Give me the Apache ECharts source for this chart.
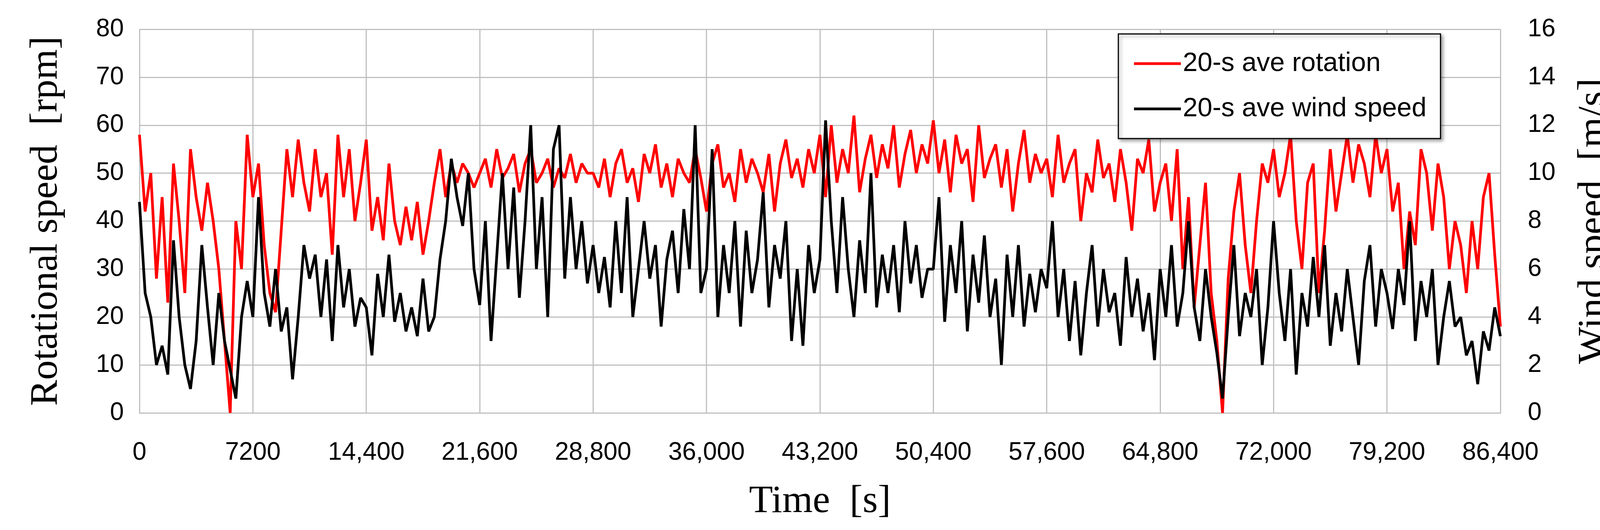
<!DOCTYPE html>
<html>
<head>
<meta charset="utf-8">
<script src="https://cdn.jsdelivr.net/npm/echarts@6/dist/echarts.min.js"></script>
<style>html,body{margin:0;padding:0;background:#fff}#chart{width:4183px;height:1358px}</style>
</head>
<body>
<div id="chart"></div>
<script>
// sample step in seconds
var step = 360

// 20-s ave rotation [rpm]
var rotation = [
  58,42,50,28,45,23,52,40,25,55,45,38,48,40,30,15,0,40,30,58,
  45,52,35,25,21,38,55,45,57,48,42,55,45,50,33,58,45,55,40,48,
  57,38,45,36,52,40,35,43,36,44,33,40,48,55,45,52,48,52,50,47,
  50,53,47,55,49,51,54,46,52,55,48,50,53,47,51,49,54,48,52,50,
  50,47,53,45,52,55,48,51,44,54,50,56,47,52,45,53,50,48,55,49,
  42,52,56,47,50,44,55,48,53,50,46,54,42,52,57,49,53,47,55,50,
  58,45,60,48,55,50,62,46,53,58,49,56,51,60,47,54,59,50,56,52,
  61,50,57,46,58,52,55,44,60,49,53,56,47,55,42,52,59,48,54,50,
  53,45,58,48,52,55,40,50,46,57,49,52,44,55,48,38,53,50,57,42,
  48,52,40,55,30,45,22,35,48,25,15,0,28,42,50,35,25,40,52,48,
  55,45,50,58,40,30,48,52,25,38,55,42,50,58,48,56,52,45,58,50,
  55,42,48,30,42,35,55,50,38,52,45,30,40,35,25,40,30,45,50,33,
  18
]

// 20-s ave wind speed [m/s]
var wind = [
  8.8,5,4,2,2.8,1.6,7.2,4,2,1,3,7,4.4,2,5,3,1.8,0.6,4,5.5,
  4,9,5,3.6,6,3.4,4.4,1.4,4,7,5.6,6.6,4,6.4,3,7,4.4,6,3.6,4.8,
  4.4,2.4,5.8,4,6.6,3.8,5,3.4,4.4,3.2,5.6,3.4,4,6.4,8,10.6,9,7.8,10,6,
  4.5,8,3,6.5,10,6,9.4,4.8,8,12,6,9,4,11,12,5.6,9,6,8,5.4,
  7,5,6.5,4.4,8,5,9,4,6,8,5.6,7,3.6,6.4,7.6,5,8.5,6,12,5,
  6,11,4,7,5,8,3.6,7.6,5,6.4,9.2,4.4,7,5.6,8,3,6,2.8,7,5,
  6.4,12.2,8,5,9,6,4,7.2,5,10,4.4,6.6,5,7,4.2,8,5.4,7,4.8,6,
  6,9,3.8,7,5,8,3.4,6.6,4.6,7.4,4,5.6,2,6.6,4,7,3.6,5.8,4.2,6,
  5.2,8,4,6,3,5.5,2.4,5,7,3.6,6,4.2,5,2.8,6.5,4,5.6,3.4,5,2.2,
  6,4,7,3.6,5,8,4.4,3,6,4,2.5,0.6,4,7,3.2,5,4,6,2,4.4,
  8,5,3,6,1.6,5,3.6,6.5,4,7,2.8,5,3.4,6,4,2,5.5,7,3.6,6,
  5,3.5,6,4.5,8,3,5.5,4,6,2,4,5.5,3.6,4,2.4,3,1.2,3.4,2.6,4.4,
  3.2
]

var sans = 'Liberation Sans'
var serif = 'Liberation Serif'
var gridLine = { show: true, lineStyle: { color: '#c0c0c0', width: 3 } }

var myChart = echarts.init(document.getElementById('chart'))
var option = {
  animation: false,
  backgroundColor: '#fff',
  grid: { left: 357, right: 342, top: 75, bottom: 300 },
  legend: {
    orient: 'vertical',
    left: 2863,
    top: 87,
    itemWidth: 120,
    itemHeight: 7,
    itemGap: 48,
    padding: [42, 36, 42, 40],
    backgroundColor: '#fff',
    borderColor: '#000',
    borderWidth: 3,
    shadowColor: 'rgba(0,0,0,0.35)',
    shadowBlur: 8,
    shadowOffsetX: 5,
    shadowOffsetY: 5,
    textStyle: { fontFamily: sans, fontSize: 68, color: '#000' },
    data: [
      { name: '20-s ave rotation', icon: 'rect' },
      { name: '20-s ave wind speed', icon: 'rect' }
    ]
  },
  xAxis: {
    type: 'value',
    min: 0,
    max: 86400,
    interval: 7200,
    name: 'Time  [s]',
    nameLocation: 'middle',
    nameGap: 178,
    nameTextStyle: { fontFamily: serif, fontSize: 100, color: '#000' },
    axisLine: { show: true, lineStyle: { color: '#c0c0c0', width: 3 } },
    axisTick: { show: false },
    splitLine: gridLine,
    axisLabel: {
      fontFamily: sans, fontSize: 64, color: '#000', margin: 70,
      formatter: function (v) { return v === 7200 ? '7200' : v.toLocaleString('en-US') }
    }
  },
  yAxis: [
    {
      type: 'value', min: 0, max: 80, interval: 10,
      name: 'Rotational speed  [rpm]',
      nameLocation: 'middle',
      nameGap: 188,
      nameTextStyle: { fontFamily: serif, fontSize: 100, color: '#000' },
      axisLine: { show: false },
      axisTick: { show: false },
      splitLine: gridLine,
      axisLabel: { fontFamily: sans, fontSize: 64, color: '#000', margin: 40 }
    },
    {
      type: 'value', min: 0, max: 16, interval: 2,
      name: 'Wind speed  [m/s]',
      nameLocation: 'middle',
      nameGap: 190,
      nameRotate: 90,
      nameTextStyle: { fontFamily: serif, fontSize: 100, color: '#000' },
      axisLine: { show: false },
      axisTick: { show: false },
      splitLine: { show: false },
      axisLabel: { fontFamily: sans, fontSize: 64, color: '#000', margin: 70 }
    }
  ],
  series: [
    {
      name: '20-s ave rotation',
      type: 'line',
      yAxisIndex: 0,
      symbol: 'none',
      color: '#ff0000',
      lineStyle: { width: 7, color: '#ff0000' },
      data: rotation.map(function (v, i) { return [i * step, v] })
    },
    {
      name: '20-s ave wind speed',
      type: 'line',
      yAxisIndex: 1,
      symbol: 'none',
      color: '#000',
      lineStyle: { width: 7, color: '#000' },
      data: wind.map(function (v, i) { return [i * step, v] })
    }
  ]
}
myChart.setOption(option)
</script>
</body>
</html>
